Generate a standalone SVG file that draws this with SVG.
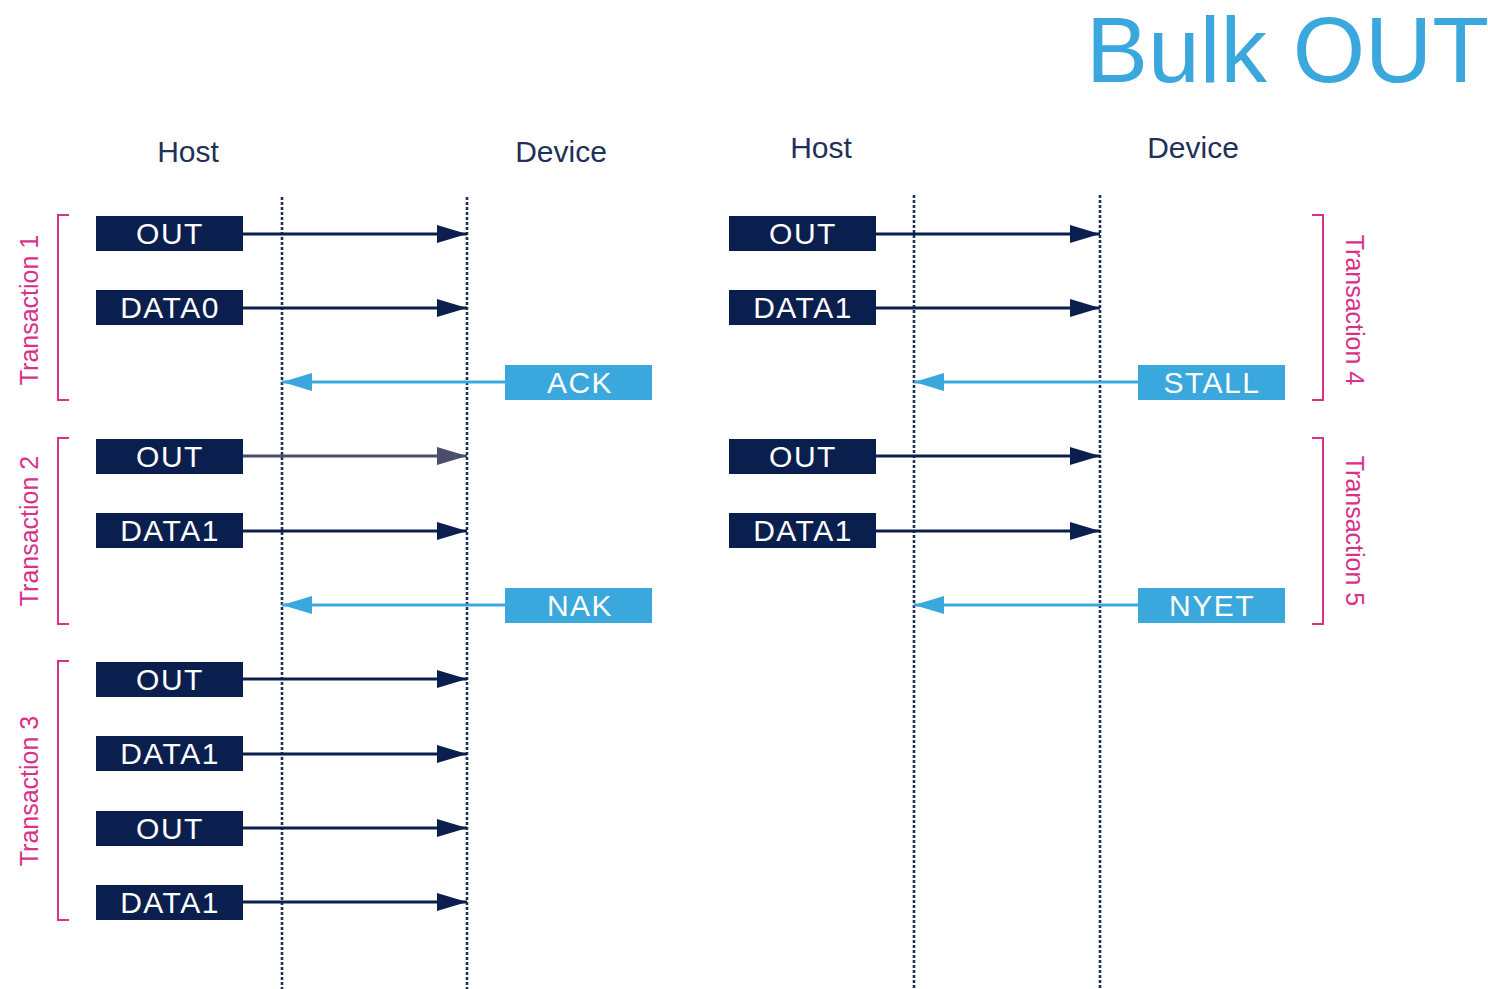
<svg xmlns="http://www.w3.org/2000/svg" width="1488" height="989" viewBox="0 0 1488 989">
<style>
text{font-family:"Liberation Sans",Arial,sans-serif}
.dk{fill:#0b1f4f}
.bl{fill:#3aa8dc}
.bt{fill:#ffffff;font-size:30px;text-anchor:middle;letter-spacing:1.5px}
.hd{fill:#1f3158;font-size:30px;text-anchor:middle}
.tr{fill:#d9308a;font-size:25px;text-anchor:middle}
.life{stroke:#1f3158;stroke-width:2.6;stroke-dasharray:3 2;fill:none}
.br{stroke:#d9308a;stroke-width:2;fill:none}
.ad{stroke:#0b1f4f;stroke-width:3;fill:none}
.ab{stroke:#3aa8dc;stroke-width:3;fill:none}
</style>
<defs>
<marker id="hd" viewBox="0 0 30 18" refX="30" refY="9" markerWidth="30" markerHeight="18" markerUnits="userSpaceOnUse" orient="auto"><path d="M0,0 L30,9 L0,18 Z" fill="#0b1f4f"/></marker>
<marker id="hg" viewBox="0 0 30 18" refX="30" refY="9" markerWidth="30" markerHeight="18" markerUnits="userSpaceOnUse" orient="auto"><path d="M0,0 L30,9 L0,18 Z" fill="#4b4f6b"/></marker>
<marker id="hb" viewBox="0 0 30 18" refX="30" refY="9" markerWidth="30" markerHeight="18" markerUnits="userSpaceOnUse" orient="auto"><path d="M0,0 L30,9 L0,18 Z" fill="#3aa8dc"/></marker>
</defs>
<rect width="1488" height="989" fill="#ffffff"/>
<text x="1086" y="82" font-size="93" fill="#3aa8dc">Bulk OUT</text>
<g id="headers">
<text class="hd" x="188" y="162">Host</text>
<text class="hd" x="561" y="162">Device</text>
<text class="hd" x="821" y="158">Host</text>
<text class="hd" x="1193" y="158">Device</text>
</g>
<g id="lifelines">
<line class="life" x1="282" y1="197" x2="282" y2="989"/>
<line class="life" x1="467" y1="197" x2="467" y2="989"/>
<line class="life" x1="914" y1="195" x2="914" y2="989"/>
<line class="life" x1="1100" y1="195" x2="1100" y2="989"/>
</g>
<g id="brackets">
<path class="br" d="M69,215 H58 V400 H69"/>
<path class="br" d="M69,438 H58 V624 H69"/>
<path class="br" d="M69,661 H58 V920 H69"/>
<path class="br" d="M1312,215 H1323 V400 H1312"/>
<path class="br" d="M1312,438 H1323 V624 H1312"/>
<text class="tr" transform="translate(38,310) rotate(-90)">Transaction 1</text>
<text class="tr" transform="translate(38,531) rotate(-90)">Transaction 2</text>
<text class="tr" transform="translate(38,791) rotate(-90)">Transaction 3</text>
<text class="tr" transform="translate(1346,310) rotate(90)">Transaction 4</text>
<text class="tr" transform="translate(1346,531) rotate(90)">Transaction 5</text>
</g>
<g id="connectors">
<line class="ad" x1="243" y1="234" x2="467" y2="234" marker-end="url(#hd)"/>
<line class="ad" x1="243" y1="308" x2="467" y2="308" marker-end="url(#hd)"/>
<line class="ab" x1="505" y1="382" x2="282" y2="382" marker-end="url(#hb)"/>
<line x1="243" y1="456" x2="467" y2="456" stroke="#4b4f6b" stroke-width="3" marker-end="url(#hg)"/>
<line class="ad" x1="243" y1="531" x2="467" y2="531" marker-end="url(#hd)"/>
<line class="ab" x1="505" y1="605" x2="282" y2="605" marker-end="url(#hb)"/>
<line class="ad" x1="243" y1="679" x2="467" y2="679" marker-end="url(#hd)"/>
<line class="ad" x1="243" y1="754" x2="467" y2="754" marker-end="url(#hd)"/>
<line class="ad" x1="243" y1="828" x2="467" y2="828" marker-end="url(#hd)"/>
<line class="ad" x1="243" y1="902" x2="467" y2="902" marker-end="url(#hd)"/>
<line class="ad" x1="876" y1="234" x2="1100" y2="234" marker-end="url(#hd)"/>
<line class="ad" x1="876" y1="308" x2="1100" y2="308" marker-end="url(#hd)"/>
<line class="ab" x1="1138" y1="382" x2="914" y2="382" marker-end="url(#hb)"/>
<line class="ad" x1="876" y1="456" x2="1100" y2="456" marker-end="url(#hd)"/>
<line class="ad" x1="876" y1="531" x2="1100" y2="531" marker-end="url(#hd)"/>
<line class="ab" x1="1138" y1="605" x2="914" y2="605" marker-end="url(#hb)"/>
</g>
<g id="n1"><rect class="dk" x="96" y="216" width="147" height="35"/><text class="bt" x="170" y="244">OUT</text></g>
<g id="n2"><rect class="dk" x="96" y="290" width="147" height="35"/><text class="bt" x="170" y="318">DATA0</text></g>
<g id="n3"><rect class="bl" x="505" y="365" width="147" height="35"/><text class="bt" x="580" y="393">ACK</text></g>
<g id="n4"><rect class="dk" x="96" y="439" width="147" height="35"/><text class="bt" x="170" y="467">OUT</text></g>
<g id="n5"><rect class="dk" x="96" y="513" width="147" height="35"/><text class="bt" x="170" y="541">DATA1</text></g>
<g id="n6"><rect class="bl" x="505" y="588" width="147" height="35"/><text class="bt" x="580" y="616">NAK</text></g>
<g id="n7"><rect class="dk" x="96" y="662" width="147" height="35"/><text class="bt" x="170" y="690">OUT</text></g>
<g id="n8"><rect class="dk" x="96" y="736" width="147" height="35"/><text class="bt" x="170" y="764">DATA1</text></g>
<g id="n9"><rect class="dk" x="96" y="811" width="147" height="35"/><text class="bt" x="170" y="839">OUT</text></g>
<g id="n10"><rect class="dk" x="96" y="885" width="147" height="35"/><text class="bt" x="170" y="913">DATA1</text></g>
<g id="n11"><rect class="dk" x="729" y="216" width="147" height="35"/><text class="bt" x="803" y="244">OUT</text></g>
<g id="n12"><rect class="dk" x="729" y="290" width="147" height="35"/><text class="bt" x="803" y="318">DATA1</text></g>
<g id="n13"><rect class="bl" x="1138" y="365" width="147" height="35"/><text class="bt" x="1212" y="393">STALL</text></g>
<g id="n14"><rect class="dk" x="729" y="439" width="147" height="35"/><text class="bt" x="803" y="467">OUT</text></g>
<g id="n15"><rect class="dk" x="729" y="513" width="147" height="35"/><text class="bt" x="803" y="541">DATA1</text></g>
<g id="n16"><rect class="bl" x="1138" y="588" width="147" height="35"/><text class="bt" x="1212" y="616">NYET</text></g>
</svg>
